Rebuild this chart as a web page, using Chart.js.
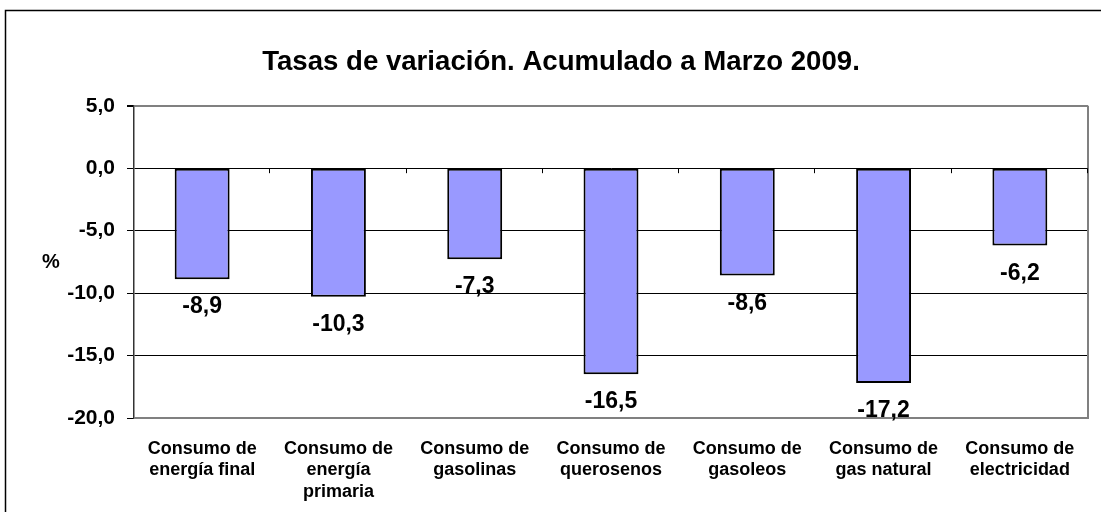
<!DOCTYPE html>
<html>
<head>
<meta charset="utf-8">
<script src="https://cdn.jsdelivr.net/npm/chart.js@4.4.1/dist/chart.umd.min.js"></script>
<style>
  html, body { margin: 0; padding: 0; background: #fff; }
  #wrap { position: relative; width: 1101px; height: 512px; }
</style>
</head>
<body>
<div id="wrap"><canvas id="c" width="1101" height="512"></canvas></div>
<script>
const titleText = 'Tasas de variación. Acumulado a Marzo 2009.';
const yAxisLabel = '%';
const categories = [
  ['Consumo de', 'energía final'],
  ['Consumo de', 'energía', 'primaria'],
  ['Consumo de', 'gasolinas'],
  ['Consumo de', 'querosenos'],
  ['Consumo de', 'gasoleos'],
  ['Consumo de', 'gas natural'],
  ['Consumo de', 'electricidad']
];
const values = [-8.9, -10.3, -7.3, -16.5, -8.6, -17.2, -6.2];
const yMin = -20, yMax = 5, yStep = 5;

const FONT = 'Arial, "Liberation Sans", Helvetica, sans-serif';
const fmt = v => Number(v).toFixed(1).replace('.', ',');

const decor = {
  id: 'decor',
  beforeDatasetsDraw(chart) {
    const { ctx, chartArea: a, scales } = chart;
    const y0 = scales.y.getPixelForValue(0);
    ctx.save();
    // plot frame (grey)
    ctx.strokeStyle = '#808080';
    ctx.lineWidth = 2;
    ctx.beginPath();
    ctx.moveTo(a.left, a.bottom);
    ctx.lineTo(a.right, a.bottom);
    ctx.lineTo(a.right, a.top);
    ctx.stroke();
    // category-axis tick marks on the zero line
    ctx.strokeStyle = '#000';
    ctx.lineWidth = 1;
    const n = categories.length;
    const w = (a.right - a.left) / n;
    ctx.beginPath();
    for (let k = 1; k <= n; k++) {
      const x = Math.round(a.left + w * k) - 0.5;
      ctx.moveTo(x, y0);
      ctx.lineTo(x, y0 + 5);
    }
    ctx.stroke();
    ctx.restore();
  },
  afterDatasetsDraw(chart) {
    const { ctx, scales } = chart;
    const meta = chart.getDatasetMeta(0);
    ctx.save();
    ctx.fillStyle = '#000';
    ctx.font = 'bold 23px ' + FONT;
    ctx.textAlign = 'center';
    ctx.textBaseline = 'alphabetic';
    meta.data.forEach((bar, i) => {
      const v = values[i];
      const yEnd = scales.y.getPixelForValue(v);
      ctx.fillText(fmt(v), bar.x, yEnd + 34);
    });
    // y-axis "%" label
    ctx.font = 'bold 20px ' + FONT;
    ctx.textBaseline = 'middle';
    ctx.fillText(yAxisLabel, 51, 262);
    ctx.restore();
  },
  afterDraw(chart) {
    const { ctx } = chart;
    ctx.save();
    ctx.strokeStyle = '#000';
    ctx.lineWidth = 1.5;
    ctx.beginPath();
    ctx.moveTo(5.5, 520);
    ctx.lineTo(5.5, 10.5);
    ctx.lineTo(1110, 10.5);
    ctx.stroke();
    ctx.restore();
  }
};

new Chart(document.getElementById('c'), {
  type: 'bar',
  data: {
    labels: categories,
    datasets: [{
      data: values,
      backgroundColor: '#9999FF',
      borderColor: '#000',
      borderWidth: 2,
      borderSkipped: false,
      barPercentage: 0.403,
      categoryPercentage: 1
    }]
  },
  options: {
    responsive: false,
    animation: false,
    devicePixelRatio: 1,
    layout: { padding: { left: 34, right: 13, top: 0, bottom: 0 } },
    plugins: {
      legend: { display: false },
      tooltip: { enabled: false },
      title: {
        display: true,
        text: titleText,
        color: '#000',
        font: { family: FONT, size: 27.6, weight: 'bold', lineHeight: 1.2 },
        padding: { top: 45.5, bottom: 27.1 }
      }
    },
    scales: {
      x: {
        grid: { display: false, drawTicks: false },
        border: { display: false },
        ticks: {
          color: '#000',
          font: { family: FONT, size: 18, weight: 'bold', lineHeight: 1.2 },
          maxRotation: 0,
          autoSkip: false,
          padding: 20
        },
        afterFit(scale) { scale.height = 94; }
      },
      y: {
        min: yMin,
        max: yMax,
        ticks: {
          stepSize: yStep,
          color: '#000',
          font: { family: FONT, size: 21, weight: 'bold' },
          padding: 12,
          callback: v => fmt(v)
        },
        grid: {
          color: c => (c.tick && c.tick.value === yMax) ? '#808080' : (c.tick && c.tick.value === yMin ? 'rgba(0,0,0,0)' : '#000'),
          lineWidth: c => (c.tick && c.tick.value === yMax) ? 2 : 1,
          tickColor: '#000',
          tickLength: 7,
          drawTicks: true
        },
        border: { display: true, color: '#333', width: 1.5 },
        afterFit(scale) { scale.width = 100; }
      }
    }
  },
  plugins: [decor]
});
</script>
</body>
</html>
